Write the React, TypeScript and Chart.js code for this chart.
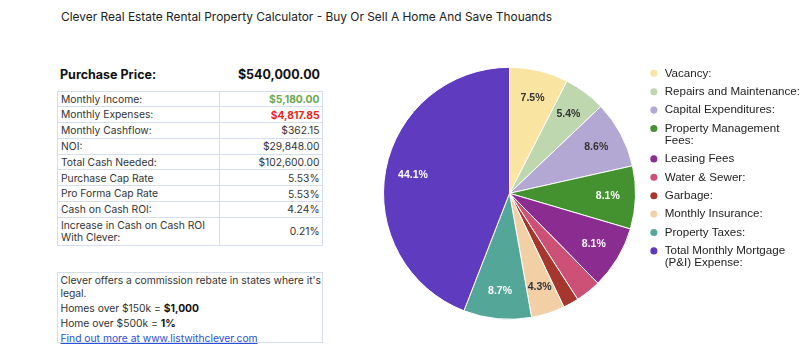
import React, { useEffect, useRef } from 'react';
import { Chart, registerables } from 'chart.js';

Chart.register(...registerables);

// ---- Data ----
const pageTitle = 'Clever Real Estate Rental Property Calculator - Buy Or Sell A Home And Save Thouands';

const categories: (string | string[])[] = [
  'Vacancy:',
  'Repairs and Maintenance:',
  'Capital Expenditures:',
  ['Property Management', 'Fees:'],
  'Leasing Fees',
  'Water & Sewer:',
  'Garbage:',
  'Monthly Insurance:',
  'Property Taxes:',
  ['Total Monthly Mortgage', '(P&I) Expense:'],
];

const monthlyExpenses = [362.6, 259, 414.4, 388.5, 388.5, 157.85, 96, 207, 419, 2125];

const sliceColors = [
  '#f9e4a2', '#bfd7af', '#b3a7d3', '#43912f', '#8a2c90',
  '#cd5177', '#a5372f', '#f3cfa5', '#53a698', '#5f3bc0',
];

const sliceTextColors = [
  '#333333', '#333333', '#333333', '#ffffff', '#ffffff',
  '#ffffff', '#ffffff', '#333333', '#ffffff', '#ffffff',
];

const purchasePriceLabel = 'Purchase Price:';
const purchasePriceValue = '$540,000.00';

const summaryLabels = [
  'Monthly Income:',
  'Monthly Expenses:',
  'Monthly Cashflow:',
  'NOI:',
  'Total Cash Needed:',
  'Purchase Cap Rate',
  'Pro Forma Cap Rate',
  'Cash on Cash ROI:',
  'Increase in Cash on Cash ROI With Clever:',
];

const summaryValues = [
  '$5,180.00',
  '$4,817.85',
  '$362.15',
  '$29,848.00',
  '$102,600.00',
  '5.53%',
  '5.53%',
  '4.24%',
  '0.21%',
];

const summaryValueColors = ['#6aa84f', '#e8261c', '', '', '', '', '', '', ''];

const sliceLabelPlugin = {
  id: 'sliceLabels',
  afterDatasetsDraw(chart: any) {
    const meta = chart.getDatasetMeta(0);
    const data = chart.data.datasets[0].data as number[];
    const total = data.reduce((a, b) => a + b, 0);
    const ctx = chart.ctx;
    ctx.save();
    ctx.font = 'bold 10.5px "Liberation Sans", Arial, sans-serif';
    ctx.textAlign = 'center';
    ctx.textBaseline = 'middle';
    meta.data.forEach((arc: any, i: number) => {
      const pct = (data[i] / total) * 100;
      if (pct < 4) return;
      const p = arc.getProps(['x', 'y', 'startAngle', 'endAngle', 'outerRadius'], true);
      const mid = (p.startAngle + p.endAngle) / 2;
      const r = p.outerRadius * 0.78;
      ctx.fillStyle = sliceTextColors[i];
      ctx.fillText(pct.toFixed(1) + '%', p.x + Math.cos(mid) * r, p.y + Math.sin(mid) * r);
    });
    ctx.restore();
  },
};

function PieChart() {
  const ref = useRef<HTMLCanvasElement | null>(null);
  useEffect(() => {
    if (!ref.current) return;
    const chart = new Chart(ref.current, {
      type: 'pie',
      data: {
        labels: categories as any,
        datasets: [
          {
            data: monthlyExpenses,
            backgroundColor: sliceColors,
            borderColor: '#ffffff',
            borderWidth: 1,
            radius: 126,
          } as any,
        ],
      },
      options: {
        animation: false,
        responsive: false,
        maintainAspectRatio: false,
        layout: { padding: { left: 37, right: 0, top: 60.7, bottom: 26.1 } },
        plugins: {
          tooltip: { enabled: false },
          legend: {
            position: 'right',
            align: 'start',
            labels: {
              usePointStyle: true,
              pointStyle: 'circle',
              boxWidth: 10,
              boxHeight: 5,
              padding: 6.8,
              color: '#222222',
              font: { family: '"Liberation Sans", Arial, sans-serif', size: 11.6, lineHeight: 11.8 / 11.6 },
              generateLabels: (c: any) => {
                const items = (Chart as any).overrides.pie.plugins.legend.labels.generateLabels(c);
                return items.map((it: any) => ({ ...it, lineWidth: 0, strokeStyle: it.fillStyle }));
              },
            },
          },
        },
      } as any,
      plugins: [sliceLabelPlugin],
    });
    return () => chart.destroy();
  }, []);
  return (
    <canvas
      ref={ref}
      width={470}
      height={352}
      style={{ position: 'absolute', left: 340, top: 0, width: 470, height: 352 }}
    />
  );
}

export default function App() {
  const font = 'Inter, "Noto Sans", sans-serif';
  const border = '1px solid #d5deeb';
  const rowH = 15.8;
  return (
    <div style={{ position: 'absolute', left: 0, top: 0, width: 810, height: 352, background: '#fff', overflow: 'hidden', fontFamily: font, color: '#333' }}>
      <div style={{ position: 'absolute', left: 61, top: 9, fontSize: 11.9, lineHeight: '15px', color: '#222', whiteSpace: 'nowrap' }}>
        {pageTitle}
      </div>

      <div style={{ position: 'absolute', left: 60, top: 67, width: 260, display: 'flex', justifyContent: 'space-between', fontSize: 12.5, fontWeight: 700, lineHeight: '16px', color: '#111' }}>
        <span>{purchasePriceLabel}</span>
        <span>{purchasePriceValue}</span>
      </div>

      <div style={{ position: 'absolute', left: 57, top: 90.5, width: 264, border, fontSize: 10.3 }}>
        {summaryLabels.map((lab, i) => {
          const last = i === summaryLabels.length - 1;
          return (
            <div key={i} style={{ display: 'flex', height: last ? 27 : rowH - 1, borderBottom: last ? 'none' : border, alignItems: 'center' }}>
              <div style={{ width: 155, padding: '0 3px', lineHeight: '12.4px', borderRight: border, height: '100%', display: 'flex', alignItems: 'center' }}>
                {lab}
              </div>
              <div style={{ flex: 1, textAlign: 'right', padding: '0 2.5px', fontWeight: summaryValueColors[i] ? 700 : 400, color: summaryValueColors[i] || '#333' }}>
                {summaryValues[i]}
              </div>
            </div>
          );
        })}
      </div>

      <div style={{ position: 'absolute', left: 57, top: 272.3, width: 258, height: 66.4, border, fontSize: 10.3, padding: '1px 3px 1px 2.5px', lineHeight: '12.6px', whiteSpace: 'nowrap' }}>
        <div>Clever offers a commission rebate in states where it's<br />legal.</div>
        <div style={{ marginTop: 2.4 }}>Homes over $150k = <b style={{ color: '#111' }}>$1,000</b></div>
        <div style={{ marginTop: 2.4 }}>Home over $500k = <b style={{ color: '#111' }}>1%</b></div>
        <div style={{ marginTop: 2.4 }}>
          <a href="#" style={{ color: '#2b4fd6', textDecoration: 'underline' }}>Find out more at www.listwithclever.com</a>
        </div>
      </div>

      <PieChart />
    </div>
  );
}
